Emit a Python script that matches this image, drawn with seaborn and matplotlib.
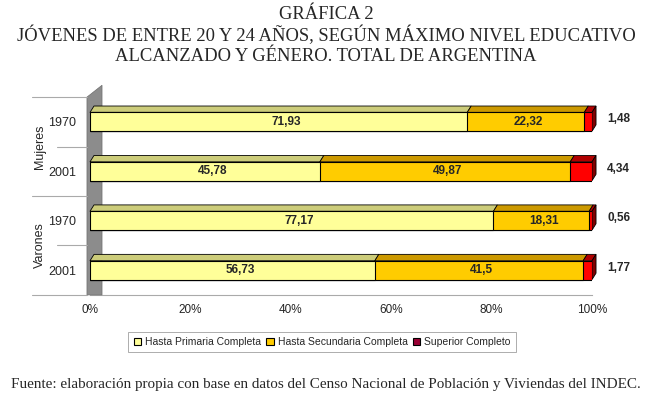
import numpy as np
import pandas as pd
import matplotlib.pyplot as plt
from matplotlib.patches import Polygon, Patch
import seaborn as sns

rows = ['Mujeres 1970', 'Mujeres 2001', 'Varones 1970', 'Varones 2001']
years = ['1970', '2001', '1970', '2001']
groups = ['Mujeres', 'Varones']
primaria = [71.93, 45.78, 77.17, 56.73]
secundaria = [22.32, 49.87, 18.31, 41.5]
superior = [1.48, 4.34, 0.56, 1.77]
series = ['Hasta Primaria Completa', 'Hasta Secundaria Completa', 'Superior Completo']

def fmt(v):
    return ('%g' % v).replace('.', ',')

df = pd.DataFrame({'row': rows, 'prim': primaria, 'sec': secundaria, 'sup': superior})
tot = df['prim'] + df['sec'] + df['sup']
df['p1'] = df['prim'] / tot * 100
df['p2'] = (df['prim'] + df['sec']) / tot * 100
df['p3'] = 100.0

c_prim, c_sec, c_sup = '#FFFF99', '#FFCC00', '#FF0000'
top_prim, top_sec, top_sup = '#CCCC7A', '#CC9900', '#B00000'

sns.set_style('white')
plt.rcParams['font.family'] = ['Liberation Sans', 'DejaVu Sans']

fig = plt.figure(figsize=(6.52, 3.98), dpi=100)
ax = fig.add_axes([0.138, 0.259, 0.770, 0.497])

h = 0.38
sns.barplot(data=df, x='p3', y='row', order=rows, color=c_sup, width=h, saturation=1,
            edgecolor='black', linewidth=0.8, ax=ax, zorder=3)
sns.barplot(data=df, x='p2', y='row', order=rows, color=c_sec, width=h, saturation=1,
            edgecolor='black', linewidth=0.8, ax=ax, zorder=4)
sns.barplot(data=df, x='p1', y='row', order=rows, color=c_prim, width=h, saturation=1,
            edgecolor='black', linewidth=0.8, ax=ax, zorder=5)

# 3D top faces and right side
dx, dy = 0.8, 0.13
for i in range(len(rows)):
    top = i - h / 2
    segs = [(0, df['p1'][i], top_prim), (df['p1'][i], df['p2'][i], top_sec),
            (df['p2'][i], 100, top_sup)]
    for L, R, col in segs:
        ax.add_patch(Polygon([(L, top), (R, top), (R + dx, top - dy), (L + dx, top - dy)],
                             closed=True, facecolor=col, edgecolor='black', linewidth=0.6,
                             zorder=2, clip_on=False))
    ax.add_patch(Polygon([(100, top), (100 + dx, top - dy), (100 + dx, i + h / 2 - dy), (100, i + h / 2)],
                         closed=True, facecolor='#800000', edgecolor='black', linewidth=0.6,
                         zorder=2, clip_on=False))
    ax.text(df['p1'][i] / 2 + 1.5, i, fmt(primaria[i]), ha='center', va='center',
            fontsize=8.5, fontweight='bold', zorder=6)
    ax.text((df['p1'][i] + df['p2'][i]) / 2 + 0.5, i, fmt(secundaria[i]), ha='center', va='center',
            fontsize=8.5, fontweight='bold', zorder=6)
    ax.text(103, i - 0.05, fmt(superior[i]), ha='left', va='center',
            fontsize=8.5, fontweight='bold', clip_on=False)

# gray back wall
ax.add_patch(Polygon([(-0.6, 3.5), (-0.6, -0.5), (2.4, -0.74), (2.4, 3.5)], closed=True,
                     facecolor='#8C8C8C', edgecolor='#6E6E6E', linewidth=0.5, zorder=1,
                     transform=ax.transData, clip_on=False))

ax.set_xlim(0, 100)
ax.set_ylim(3.5, -0.5)
ax.set_xticks([0, 20, 40, 60, 80, 100])
ax.set_xticklabels(['0%', '20%', '40%', '60%', '80%', '100%'], fontsize=8.5)
ax.set_yticks(range(4))
ax.set_yticklabels(years, fontsize=9)
ax.tick_params(axis='y', length=0, pad=10)
ax.tick_params(axis='x', length=3, color='#888888', direction='inout', pad=5)
ax.set_xlabel('')
ax.set_ylabel('')
for s in ['top', 'right', 'left']:
    ax.spines[s].set_visible(False)
ax.spines['bottom'].set_color('#AAAAAA')
ax.spines['bottom'].set_linewidth(0.8)
ax.spines['bottom'].set_zorder(0)

# group separators and labels
for yv, x0 in [(-0.5, -0.115), (0.5, -0.065), (1.5, -0.115), (2.5, -0.065), (3.5, -0.115)]:
    ax.plot([x0, -0.005], [yv, yv], transform=ax.get_yaxis_transform(), color='#AAAAAA',
            linewidth=0.8, clip_on=False)
for k, g in enumerate(groups):
    ax.text(-0.1, 2 * k + 0.5, g, rotation=90, ha='center', va='center', fontsize=9,
            transform=ax.get_yaxis_transform())

handles = [Patch(facecolor=c_prim, edgecolor='black', linewidth=0.8),
           Patch(facecolor=c_sec, edgecolor='black', linewidth=0.8),
           Patch(facecolor='#990033', edgecolor='black', linewidth=0.8)]
leg = fig.legend(handles, series, loc='center', bbox_to_anchor=(0.494, 0.141), ncol=3,
                 fontsize=7.5, frameon=True, fancybox=False, handlelength=0.7, handleheight=0.7,
                 handletextpad=0.4, columnspacing=0.5, borderpad=0.5)
leg.get_frame().set_edgecolor('#888888')
leg.get_frame().set_linewidth(0.6)

fig.text(0.5, 0.985, 'GRÁFICA 2\nJÓVENES DE ENTRE 20 Y 24 AÑOS, SEGÚN MÁXIMO NIVEL EDUCATIVO\nALCANZADO Y GÉNERO. TOTAL DE ARGENTINA',
         ha='center', va='top', fontsize=13.4, family='Liberation Serif', linespacing=1.2)
fig.text(0.5, 0.035, 'Fuente: elaboración propia con base en datos del Censo Nacional de Población y Viviendas del INDEC.',
         ha='center', va='center', fontsize=10.9, family='Liberation Serif')

fig.savefig('out.png', dpi=100)
